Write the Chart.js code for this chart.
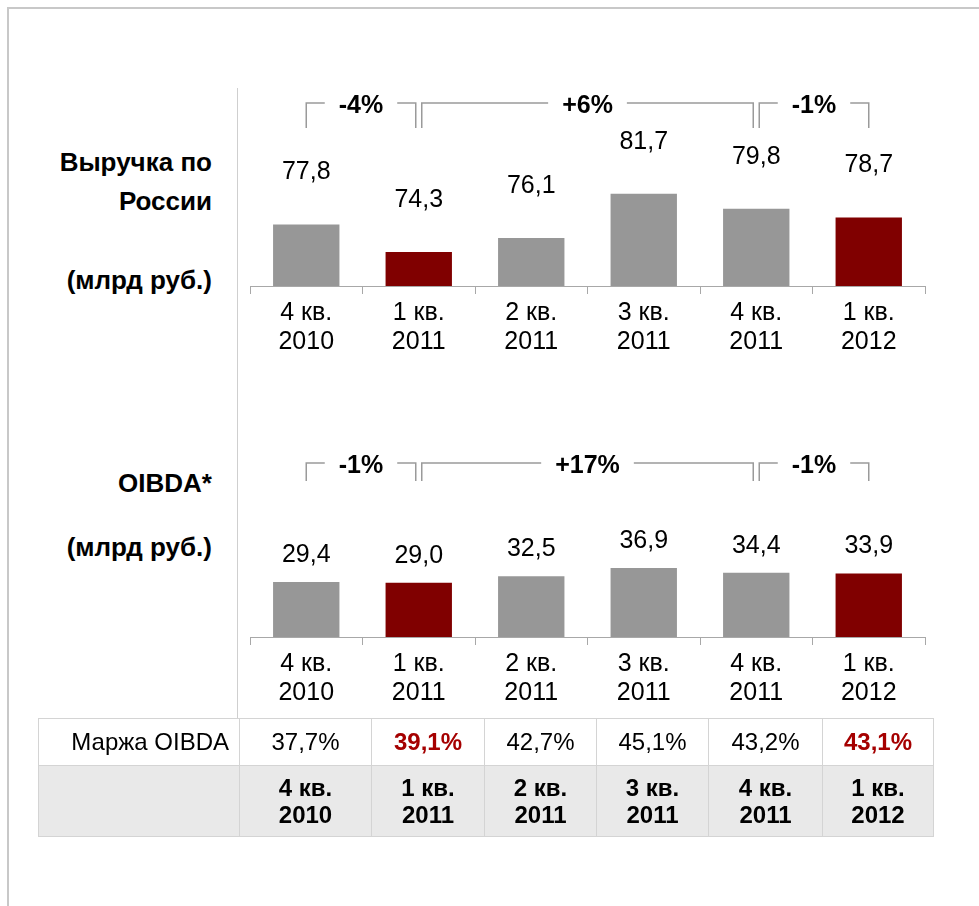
<!DOCTYPE html>
<html lang="ru">
<head>
  <meta charset="UTF-8">
  <title>Выручка и OIBDA</title>
  <script src="https://cdn.jsdelivr.net/npm/chart.js"></script>
  <style>
    body { margin: 0; background: #fff; font-family: 'Liberation Sans', Arial, sans-serif; color: #000; }
    #page { position: relative; width: 979px; height: 906px; overflow: hidden; }
    .frame-top { position: absolute; left: 8px; top: 7px; width: 980px; height: 2px; background: #c8c8c8; }
    .frame-left { position: absolute; left: 7px; top: 7px; width: 2px; height: 900px; background: #c8c8c8; }
    .vline { position: absolute; left: 237px; top: 88px; width: 1px; height: 630px; background: #cfcfcf; }
    .side { position: absolute; right: 767px; font-weight: bold; font-size: 26px; text-align: right; white-space: nowrap; line-height: 26px; }
    .box { position: absolute; left: 237px; }
    table { position: absolute; left: 38px; top: 718px; width: 896px; table-layout: fixed; border-collapse: collapse; font-size: 24px; }
    td { border: 1px solid #d4d4d4; text-align: center; padding: 0; }
    tr.r1 td { height: 46px; background: #fff; }
    tr.r2 td { height: 70px; background: #e9e9e9; font-weight: bold; line-height: 27px; }
    td.lbl { text-align: right; padding-right: 10px; }
    .hl { color: #a50000; font-weight: bold; }
  </style>
</head>
<body>
<div id="page">
  <div class="frame-top"></div>
  <div class="frame-left"></div>
  <div class="vline"></div>

  <div class="side" style="top:149px">Выручка по</div>
  <div class="side" style="top:188px">России</div>
  <div class="side" style="top:267px">(млрд руб.)</div>
  <div class="side" style="top:470px">OIBDA*</div>
  <div class="side" style="top:534px">(млрд руб.)</div>

  <div class="box" style="top:80px"><canvas id="revChart" width="700" height="300"></canvas></div>
  <div class="box" style="top:440px"><canvas id="oibdaChart" width="700" height="280"></canvas></div>

  <table id="marginTable"></table>
</div>

<script>
  const quarters = [['4 кв.', '2010'], ['1 кв.', '2011'], ['2 кв.', '2011'], ['3 кв.', '2011'], ['4 кв.', '2011'], ['1 кв.', '2012']];
  const revenue = [77.8, 74.3, 76.1, 81.7, 79.8, 78.7];
  const oibda = [29.4, 29.0, 32.5, 36.9, 34.4, 33.9];
  const margin = [37.7, 39.1, 42.7, 45.1, 43.2, 43.1];
  const current = [false, true, false, false, false, true];
  // [from, to, label]
  const revenueChanges = [[0, 1, '-4%'], [1, 4, '+6%'], [4, 5, '-1%']];
  const oibdaChanges = [[0, 1, '-1%'], [1, 4, '+17%'], [4, 5, '-1%']];

  const FONT = "'Liberation Sans', Arial, sans-serif";
  const fmt = v => v.toFixed(1).replace('.', ',');

  // value labels above bars + change brackets
  const annotPlugin = {
    id: 'annot',
    afterDatasetsDraw(chart, args, opts) {
      const ctx = chart.ctx;
      const meta = chart.getDatasetMeta(0);
      const data = chart.data.datasets[0].data;
      ctx.save();
      ctx.fillStyle = '#000';
      ctx.textAlign = 'center';
      ctx.textBaseline = 'middle';
      ctx.font = '25px ' + FONT;
      meta.data.forEach((bar, i) => {
        ctx.fillText(fmt(data[i]), bar.x, bar.y - opts.labelOffset);
      });

      const x = chart.scales.x;
      const last = x.ticks.length - 1;
      ctx.font = 'bold 25px ' + FONT;
      ctx.strokeStyle = '#9a9a9a';
      ctx.lineWidth = 1.5;
      opts.brackets.forEach(([a, b, label]) => {
        const x1 = x.getPixelForValue(a) + (a > 0 ? 3 : 0);
        const x2 = x.getPixelForValue(b) - (b < last ? 3 : 0);
        const mid = (x1 + x2) / 2;
        const w = ctx.measureText(label).width;
        const y = opts.bracketY, y2 = y + opts.drop;
        ctx.beginPath();
        ctx.moveTo(x1, y2); ctx.lineTo(x1, y); ctx.lineTo(mid - w / 2 - 14, y);
        ctx.moveTo(mid + w / 2 + 14, y); ctx.lineTo(x2, y); ctx.lineTo(x2, y2);
        ctx.stroke();
        ctx.fillText(label, mid, y + 3);
      });
      ctx.restore();
    }
  };

  function makeChart(id, values, min, max, padding, annot) {
    return new Chart(document.getElementById(id), {
      type: 'bar',
      data: {
        labels: quarters,
        datasets: [{
          data: values,
          backgroundColor: current.map(c => c ? '#800000' : '#979797'),
          barPercentage: 0.59,
          categoryPercentage: 1
        }]
      },
      options: {
        responsive: false,
        animation: false,
        layout: { padding: padding },
        plugins: { legend: { display: false }, tooltip: { enabled: false }, annot: annot },
        scales: {
          x: {
            grid: { offset: true, drawOnChartArea: false, tickLength: 8, color: '#a8a8a8' },
            border: { color: '#a8a8a8' },
            ticks: { color: '#000', padding: 5, font: { family: FONT, size: 25, lineHeight: 1.16 } }
          },
          y: { display: false, min: min, max: max }
        }
      },
      plugins: [annotPlugin]
    });
  }

  makeChart('revChart', revenue, 70, 95, { left: 13, right: 12, top: 9, bottom: 18 },
    { labelOffset: 52, brackets: revenueChanges, bracketY: 23, drop: 25 });
  makeChart('oibdaChart', oibda, 0, 100, { left: 13, right: 12, top: 10, bottom: 7 },
    { labelOffset: 27, brackets: oibdaChanges, bracketY: 23, drop: 18 });

  // margin table
  const widths = [201, 132, 113, 112, 112, 114, 111];
  const table = document.getElementById('marginTable');
  let cols = '<colgroup>' + widths.map(w => '<col style="width:' + w + 'px">').join('') + '</colgroup>';
  let r1 = '<tr class="r1"><td class="lbl">Маржа OIBDA</td>';
  let r2 = '<tr class="r2"><td></td>';
  margin.forEach((m, i) => {
    r1 += '<td' + (current[i] ? ' class="hl"' : '') + '>' + fmt(m) + '%</td>';
    r2 += '<td>' + quarters[i][0] + '<br>' + quarters[i][1] + '</td>';
  });
  table.innerHTML = cols + r1 + '</tr>' + r2 + '</tr>';
</script>
</body>
</html>
